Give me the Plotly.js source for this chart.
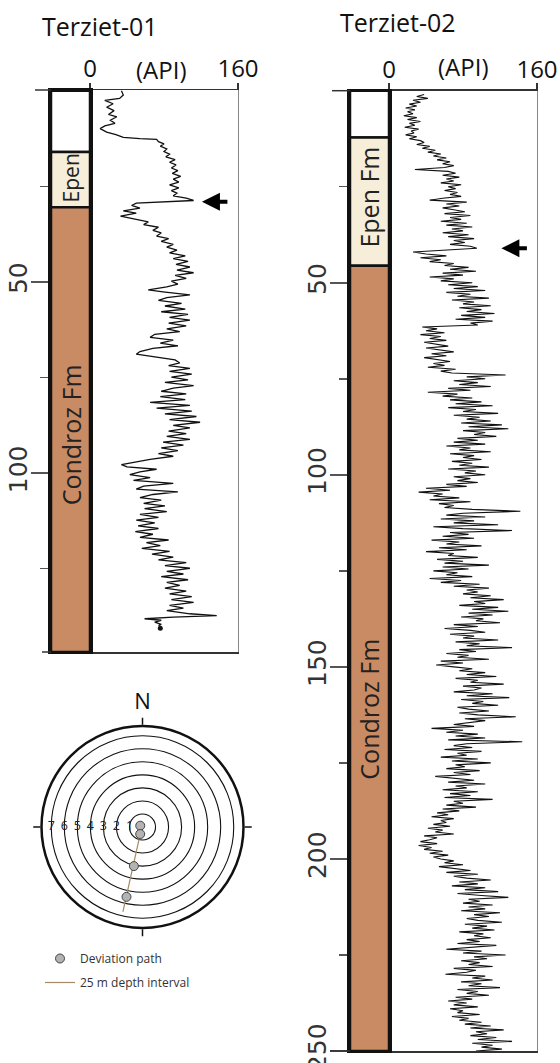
<!DOCTYPE html>
<html><head><meta charset="utf-8">
<script src="https://cdn.plot.ly/plotly-3.0.1.min.js"></script>
<style>html,body{margin:0;padding:0;background:#fff}#chart{width:560px;height:1063px}</style>
</head><body><div id="chart"></div>
<script>
// ---------- data ----------
const wellNames = ['Terziet-01', 'Terziet-02'];
const apiTickVals = [0, 160];
const apiTickText = ['0', '160'];
const apiLabel = '(API)';

// lithology columns (top depth, thickness, colour, label)
const unitColors = ['#ffffff', '#f6eed9', '#c98b63'];
const t1UnitTop = [0, 16, 30.5];
const t1UnitThk = [16, 14.5, 116.3];
const t1LabelText = ['Epen', 'Condroz Fm'];
const t1LabelDepth = [22.8, 90];
const t2UnitTop = [0, 12.2, 45.6];
const t2UnitThk = [12.2, 33.4, 204.4];
const t2LabelText = ['Epen Fm', 'Condroz Fm'];
const t2LabelDepth = [27.7, 161];

// depth ticks
const t1MajorTicks = [50, 100];
const t1MinorTicks = [25, 75, 125];
const t2MajorTicks = [50, 100, 150, 200, 250];
const t2MinorTicks = [25, 75, 125, 175, 225];

// Terziet-01 gamma ray log
const t1Depth = [0,1.1,2.0,2.5,3.4,4.3,5.2,6.2,6.8,7.7,8.5,9.2,9.9,10.8,11.5,12.2,12.5,12.7,13.3,13.9,
14.5,15.2,15.9,16.6,17.3,18.0,18.7,19.4,20.2,20.9,21.6,22.4,23.1,23.9,24.6,25.4,26.1,26.8,27.5,28.1,
28.7,29.1,29.4,30.0,30.7,31.4,32.0,32.8,33.5,34.3,35.0,35.7,36.5,37.2,38.0,38.7,39.4,40.2,40.9,41.7,
42.4,43.2,43.9,44.6,45.4,46.1,46.9,47.6,48.3,49.1,49.8,50.6,51.3,52.1,52.6,53.4,54.1,54.8,55.6,56.3,
57.1,57.8,58.5,59.3,60.0,60.8,61.5,62.3,63.0,63.7,64.5,65.2,66.0,66.7,67.4,68.2,68.9,69.7,70.4,71.2,
71.9,72.6,73.4,74.1,74.9,75.6,76.3,77.1,77.8,78.6,79.3,80.0,80.8,81.5,82.3,83.0,83.8,84.5,85.2,86.0,
86.7,87.5,88.2,89.0,89.7,90.4,91.2,91.9,92.7,93.4,94.1,94.9,95.6,96.4,97.1,97.8,98.4,99.0,99.7,100.4,
101.2,101.9,102.7,103.4,104.2,104.9,105.6,106.4,107.1,107.9,108.6,109.3,110.1,110.8,111.6,112.3,113.0,113.8,114.5,115.3,
116.0,116.8,117.5,118.2,119.0,119.7,120.5,121.2,122.0,122.7,123.4,124.2,124.9,125.7,126.4,127.1,127.9,128.6,129.4,130.1,
130.9,131.6,132.3,133.1,133.8,134.6,135.3,136.0,136.8,137.3,137.7,138.1,138.5,139.0,139.6,139.9];
const t1GR = [34,36,32,16,25,18,26,20,29,22,27,16,11,18,28,36,54,72,74,80,
76,83,80,86,82,92,86,93,88,95,89,98,90,96,86,96,88,94,90,104,
112,83,50,45,54,36,50,33,46,63,58,74,68,77,72,85,77,90,83,94,
86,103,90,106,93,108,94,112,92,104,88,95,83,63,79,108,83,74,99,81,
103,77,106,86,108,85,104,83,97,70,65,90,76,95,68,54,50,72,92,97,
85,108,86,110,88,106,81,112,90,77,104,76,103,65,108,72,110,81,115,86,
119,90,108,85,104,83,108,79,101,77,95,74,90,65,50,34,40,72,54,43,
65,47,90,58,50,95,68,54,77,58,81,59,83,54,74,50,70,52,74,49,
68,54,85,61,76,56,86,67,90,74,104,81,108,83,101,77,106,83,97,81,
104,86,110,88,112,86,101,83,108,137,90,59,77,70,77,74];
const t1EndDotDepth = [140.6];
const t1EndDotGR = [76];

// Terziet-02 gamma ray log, sampled every 0.5 m from 1 m
const t2StartDepth = 1;
const t2Step = 0.5;
const t2GR = [
38,30,42,26,34,22,30,18,28,20,
26,16,30,20,34,22,28,17,32,24,
27,18,30,22,34,38,30,44,36,50,
42,56,48,62,52,66,58,70,60,28,
64,72,58,76,62,70,56,78,64,72,
60,74,66,78,58,44,84,62,76,58,
70,82,60,88,66,78,56,84,62,90,
68,80,58,86,64,92,70,82,66,88,
95,60,26,40,62,34,56,44,70,60,
86,66,94,58,80,44,70,56,90,64,
96,70,104,62,88,74,108,68,92,80,
110,76,100,84,114,78,104,72,112,88,
96,36,52,40,60,34,56,44,62,38,
50,64,40,58,70,46,62,38,54,66,
48,60,42,72,56,68,126,84,104,70,
96,76,110,64,88,42,74,58,90,66,
100,72,112,64,94,80,118,70,98,84,
110,78,122,86,129,80,104,92,116,74,
96,70,104,62,88,76,110,66,92,80,
100,68,90,76,108,64,94,82,104,70,
88,74,96,62,84,40,66,32,58,48,
76,44,88,54,70,60,90,142,80,62,
104,56,92,70,118,48,80,133,66,86,
58,92,46,76,62,100,54,84,40,70,
64,96,52,80,60,108,58,86,48,74,
62,90,44,78,56,98,70,108,84,96,
80,110,88,124,92,104,76,118,90,129,
86,112,78,102,94,120,70,96,60,88,
104,66,92,80,118,72,98,84,133,76,
94,62,86,74,108,56,80,51,70,90,
76,104,84,116,72,96,88,124,80,100,
92,70,112,84,130,78,102,90,118,74,
86,108,76,96,137,82,104,88,70,92,
46,80,62,96,72,104,64,144,84,70,
90,60,100,74,84,56,96,68,110,72,
82,62,98,70,88,50,76,92,64,104,
72,84,58,96,66,88,60,112,70,80,
62,94,58,76,52,64,46,70,56,62,
48,66,42,58,50,70,38,52,44,34,
52,32,46,38,58,44,64,48,56,70,
60,80,54,72,88,62,96,70,84,110,
76,96,68,104,82,118,74,100,129,86,
98,80,112,86,104,78,120,92,108,84,
96,122,82,106,90,114,76,102,92,110,
84,98,74,116,88,62,100,80,126,92,
106,78,98,86,112,70,94,84,61,104,
90,112,78,100,86,120,74,96,84,108,
72,90,64,84,70,96,66,80,74,98,
68,86,76,100,82,110,88,124,94,106,
88,116,96,133,90,112,100,122,94];

// arrows (marker level)
const arrowDepth = [29, 41];
const arrowGR = [121, 121.5];

// deviation plot (inclination rings in degrees, azimuth in degrees)
const ringNumbers = [1, 2, 3, 4, 5, 6, 7];
const devR = [0.2, 0.57, 3.07, 5.5];
const devAzimuth = [300, 198, 192.4, 192.9];
const intervalR = [0.57, 6.69];
const intervalAzimuth = [198, 193];
const compassTicks = [0, 90, 180, 270];
const compassText = ['N', '', '', ''];

// ---------- layout helpers ----------
const W = 560, H = 1063;
const px = v => v / W;
const py = v => 1 - v / H;
const t1Dom = [py(652), py(90)];
const t2Dom = [py(1051), py(90.7)];
const t1Range = [146.8, -0.2];
const t2Range = [250, 0];

const traces = [];
// lithology bars
traces.push({type:'bar', xaxis:'x2', yaxis:'y2', x:t1UnitTop.map(()=>0.5), y:t1UnitThk, base:t1UnitTop,
  width:1, marker:{color:unitColors, line:{color:'#111', width:2.5}}, showlegend:false, hoverinfo:'skip'});
traces.push({type:'bar', xaxis:'x4', yaxis:'y4', x:t2UnitTop.map(()=>0.5), y:t2UnitThk, base:t2UnitTop,
  width:1, marker:{color:unitColors, line:{color:'#111', width:2.5}}, showlegend:false, hoverinfo:'skip'});
// GR logs
traces.push({type:'scatter', mode:'lines', xaxis:'x', yaxis:'y', x:t1GR, y:t1Depth,
  line:{color:'#111', width:1.3}, showlegend:false, hoverinfo:'skip'});
traces.push({type:'scatter', mode:'markers', xaxis:'x', yaxis:'y', x:t1EndDotGR, y:t1EndDotDepth,
  marker:{color:'#111', size:5}, showlegend:false, hoverinfo:'skip'});
traces.push({type:'scatter', mode:'lines', xaxis:'x3', yaxis:'y3', x:t2GR, y0:t2StartDepth, dy:t2Step,
  line:{color:'#111', width:1.1}, showlegend:false, hoverinfo:'skip'});
// deviation plot
traces.push({type:'scatterpolar', mode:'text', r:ringNumbers, theta:ringNumbers.map(()=>270),
  text:ringNumbers.map(String), textfont:{family:'Open Sans', size:12.5, color:'#222'}, showlegend:false, hoverinfo:'skip'});
traces.push({type:'scatterpolar', mode:'lines', r:intervalR, theta:intervalAzimuth, name:'25 m depth interval',
  line:{color:'#a58a66', width:1.2}, legendgroup:'b', legendrank:2, hoverinfo:'skip'});
traces.push({type:'scatterpolar', mode:'markers', r:devR, theta:devAzimuth, name:'Deviation path',
  marker:{size:9, color:'#b3b3b3', line:{color:'#444', width:1}}, legendgroup:'a', legendrank:1, hoverinfo:'skip'});

const grX = (dom, anchor) => ({domain:dom, range:[0,160], anchor:anchor, side:'top', showline:true, mirror:true,
  linecolor:'#333', linewidth:1.5, showgrid:false, zeroline:false, tickvals:apiTickVals, ticktext:apiTickText,
  ticks:'outside', ticklen:6, tickwidth:1.5, tickcolor:'#333', ticklabelstandoff:-4,
  tickfont:{family:'Open Sans', size:24, color:'#111'}, fixedrange:true});
const grY = (dom, range, anchor) => ({domain:dom, range:range, anchor:anchor, showline:true, mirror:true,
  linecolor:'#888', linewidth:1.2, showgrid:false, zeroline:false, showticklabels:false, ticks:'', fixedrange:true});
const lithX = (dom, anchor) => ({domain:dom, range:[0,1], anchor:anchor, showline:true, mirror:true,
  linecolor:'#111', linewidth:2, showgrid:false, zeroline:false, showticklabels:false, ticks:'', fixedrange:true});
const lithY = (dom, range, anchor, major, minor) => ({domain:dom, range:range, anchor:anchor, showline:true, mirror:true,
  linecolor:'#111', linewidth:3, showgrid:false, zeroline:false, tickvals:major, ticktext:major.map(String),
  ticks:'outside', ticklen:17, tickwidth:1.5, tickcolor:'#555', tickangle:-90, ticklabelstandoff:-6,
  ticklabeloverflow:'allow',
  tickfont:{family:'DejaVu Sans', size:25, color:'#333'},
  minor:{tickvals:minor, ticks:'outside', ticklen:8, tickwidth:1.5, tickcolor:'#555', showgrid:false}, fixedrange:true});

const ann = (o) => Object.assign({xanchor:'center', yanchor:'middle', showarrow:false}, o);
const annotations = [
  ann({text:wellNames[0], xref:'paper', yref:'paper', x:px(100), y:py(26), font:{family:'Open Sans', size:25, color:'#111'}}),
  ann({text:wellNames[1], xref:'paper', yref:'paper', x:px(398), y:py(22), font:{family:'Open Sans', size:25, color:'#111'}}),
  ann({text:apiLabel, xref:'x', yref:'paper', x:77, y:py(70), font:{family:'Open Sans', size:24, color:'#111'}}),
  ann({text:apiLabel, xref:'x3', yref:'paper', x:80, y:py(67), font:{family:'Open Sans', size:24, color:'#111'}}),
  ann({text:t1LabelText[0], xref:'x2', yref:'y2', x:0.5, y:t1LabelDepth[0], textangle:-90, font:{family:'Open Sans', size:21, color:'#222'}}),
  ann({text:t1LabelText[1], xref:'x2', yref:'y2', x:0.5, y:t1LabelDepth[1], textangle:-90, font:{family:'Open Sans', size:25, color:'#222'}}),
  ann({text:t2LabelText[0], xref:'x4', yref:'y4', x:0.5, y:t2LabelDepth[0], textangle:-90, font:{family:'Open Sans', size:25, color:'#222'}}),
  ann({text:t2LabelText[1], xref:'x4', yref:'y4', x:0.5, y:t2LabelDepth[1], textangle:-90, font:{family:'Open Sans', size:25, color:'#222'}}),
  {text:'', xref:'x', yref:'y', x:arrowGR[0], y:arrowDepth[0], ax:27, ay:0, showarrow:true, arrowhead:2, arrowsize:0.9, arrowwidth:4, arrowcolor:'#000'},
  {text:'', xref:'x3', yref:'y3', x:arrowGR[1], y:arrowDepth[1], ax:27, ay:0, showarrow:true, arrowhead:2, arrowsize:0.9, arrowwidth:4, arrowcolor:'#000'}
];

const shapes = [
  {type:'line', xref:'paper', yref:'y2 domain', x0:px(35), x1:px(51), y0:1, y1:1, line:{color:'#333', width:1.5}},
  {type:'line', xref:'paper', yref:'y2 domain', x0:px(42), x1:px(51), y0:0, y1:0, line:{color:'#333', width:1.5}},
  {type:'line', xref:'paper', yref:'y4 domain', x0:px(332), x1:px(350), y0:1, y1:1, line:{color:'#333', width:1.5}},
  {type:'line', xref:'paper', yref:'y4 domain', x0:px(330), x1:px(350), y0:0, y1:0, line:{color:'#333', width:1.5}}
];

const layout = {
  width:W, height:H, margin:{l:0, r:0, t:0, b:0}, paper_bgcolor:'#fff', plot_bgcolor:'rgba(0,0,0,0)',
  font:{family:'Open Sans', color:'#111'}, barmode:'overlay', showlegend:true,
  xaxis:grX([px(90), px(238)], 'y'),
  yaxis:grY(t1Dom, t1Range, 'x'),
  xaxis2:lithX([px(51), px(90)], 'y2'),
  yaxis2:lithY(t1Dom, t1Range, 'x2', t1MajorTicks, t1MinorTicks),
  xaxis3:grX([px(389), px(537)], 'y3'),
  yaxis3:grY(t2Dom, t2Range, 'x3'),
  xaxis4:lithX([px(350), px(389)], 'y4'),
  yaxis4:lithY(t2Dom, t2Range, 'x4', t2MajorTicks, t2MinorTicks),
  polar:{domain:{x:[px(41.5), px(243.5)], y:[py(928), py(726)]}, bgcolor:'#fff',
    radialaxis:{range:[0,7.75], tickvals:ringNumbers, showticklabels:false, ticks:'', showline:false,
      showgrid:true, gridcolor:'#111', gridwidth:1.1},
    angularaxis:{rotation:90, direction:'clockwise', tickvals:compassTicks, ticktext:compassText,
      ticks:'outside', ticklen:7, tickwidth:1.5, tickcolor:'#111', showline:true, linecolor:'#111', linewidth:2.5,
      showgrid:false, tickfont:{family:'Open Sans', size:22, color:'#111'}}},
  legend:{x:px(40), xanchor:'left', y:py(944), yanchor:'top', bgcolor:'rgba(0,0,0,0)',
    font:{family:'Open Sans', size:12, color:'#333'}, traceorder:'grouped', tracegroupgap:5},
  annotations:annotations, shapes:shapes
};

Plotly.newPlot('chart', traces, layout, {staticPlot:true, displayModeBar:false});
</script></body></html>
